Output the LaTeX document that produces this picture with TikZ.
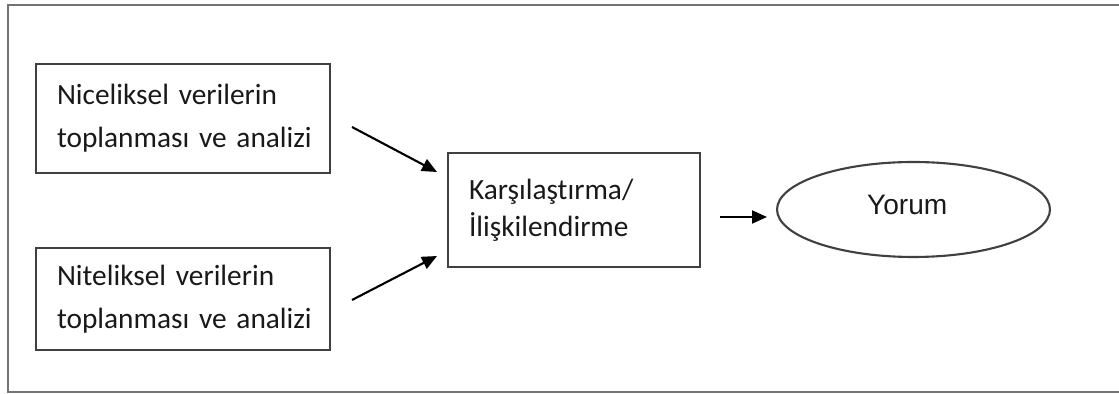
\documentclass[tikz,border=0pt]{standalone}
\usepackage{fontspec}
\setmainfont[Ligatures=NoCommon]{Carlito}
\newfontfamily\arialfont{Liberation Sans}
\usetikzlibrary{arrows.meta,shapes.geometric}

\begin{document}
\begin{tikzpicture}[x=0.02cm, y=0.02cm]
\tikzstyle{every node}+=[text=black!90]
\tikzstyle{kutu}=[draw=black!75, line width=1.2pt, align=left, inner xsep=0.42cm, inner ysep=0pt]
\tikzstyle{ok}=[draw=black, line width=1.2pt, -{Triangle[length=3mm,width=2.6mm]}]
\useasboundingbox (0,0) rectangle (1119,-394);
% dis cerceve
\draw [black!55, line width=0.9pt] (8,-5) rectangle (1130,-392);
% kutular
\node [kutu, text width=5.04cm, minimum height=2.18cm, font=\fontsize{16.7}{24.5}\selectfont] (nicel) at (183,-118.5) {\mbox{Niceliksel verilerin}\\\mbox{toplanması ve analizi}};
\node [kutu, text width=5.04cm, minimum height=2.04cm, font=\fontsize{16.7}{24.5}\selectfont] (nitel) at (183,-299) {\mbox{Niteliksel verilerin}\\\mbox{toplanması ve analizi}};
\node [kutu, text width=4.2cm, minimum height=2.28cm, font=\fontsize{16.7}{21}\selectfont] (karsi) at (574,-210) {Karşılaştırma/\\İlişkilendirme};
\node [draw=black!75, line width=1.2pt, ellipse, inner sep=0pt, minimum width=5.46cm, minimum height=1.9cm, font=\arialfont\fontsize{16}{18}\selectfont] (yorum) at (913.5,-209.5) {\hspace{-0.25cm}\raisebox{0.2cm}{Yorum}};
% oklar
\coordinate (o1a) at (352,-127);
\coordinate (o1b) at (437,-172);
\coordinate (o2a) at (352,-300);
\coordinate (o2b) at (437,-256);
\coordinate (o3a) at (720,-217);
\coordinate (o3b) at (767,-217);
\draw [ok] (o1a) -- (o1b);
\draw [ok] (o2a) -- (o2b);
\draw [ok] (o3a) -- (o3b);
\end{tikzpicture}
\end{document}
